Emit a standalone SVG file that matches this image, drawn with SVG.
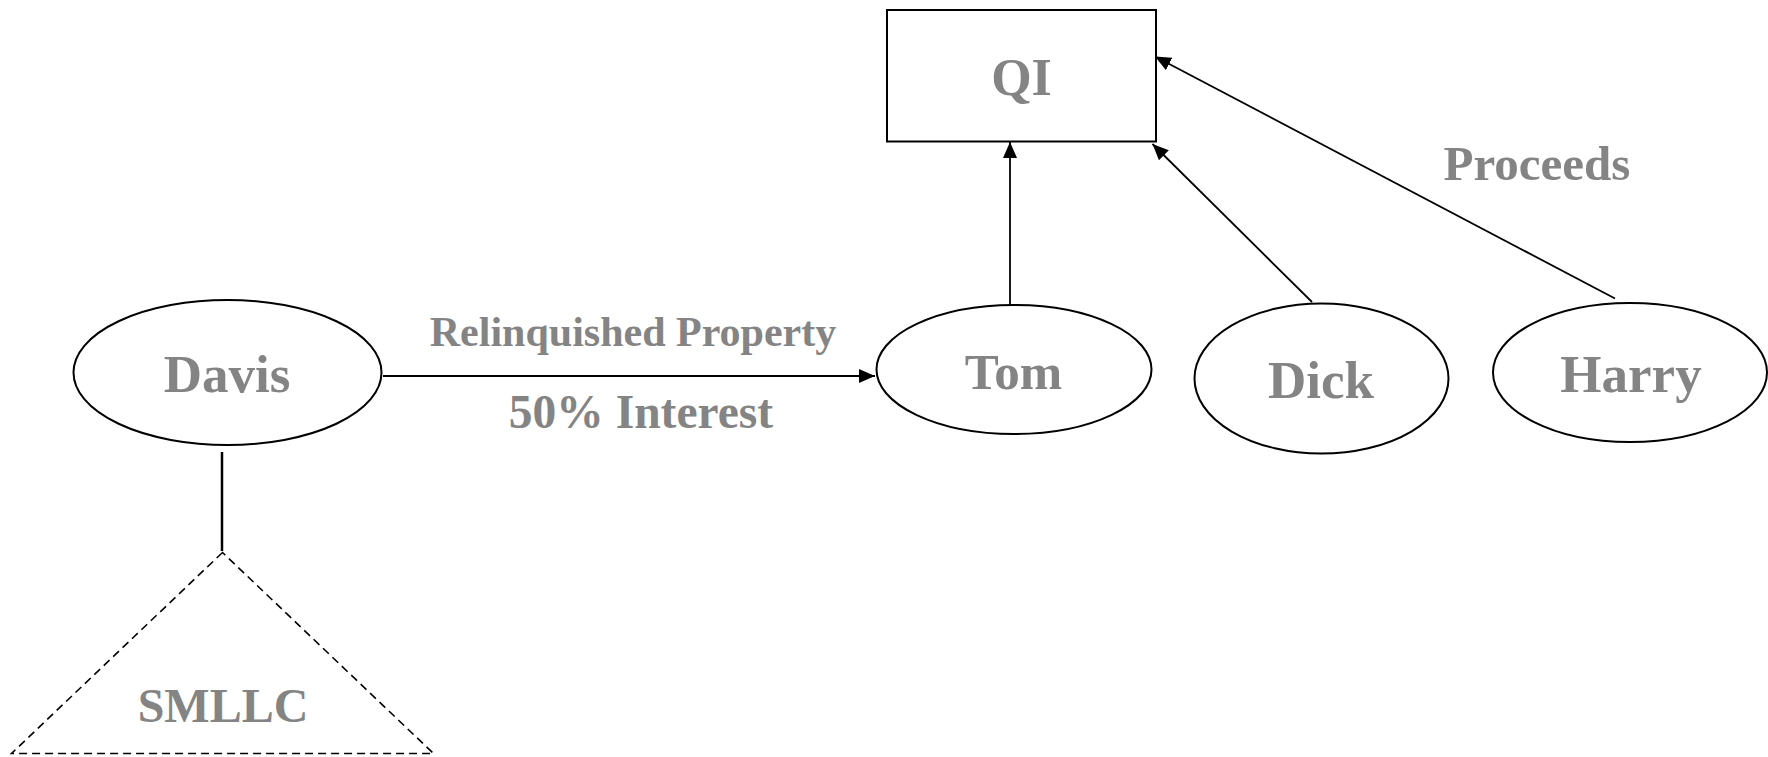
<svg xmlns="http://www.w3.org/2000/svg" width="1768" height="757" viewBox="0 0 1768 757">
<style>
.shape{fill:#fff;stroke:#000;stroke-width:2}
.lbl{font-family:"Liberation Serif","Times New Roman",serif;font-weight:bold;fill:#848484;text-anchor:middle}
.conn{fill:none;stroke:#000;stroke-width:1.8}
</style>
<defs>
<marker id="ah" markerUnits="userSpaceOnUse" markerWidth="17" markerHeight="14" refX="16" refY="7" orient="auto">
<path d="M0,0 L16,7 L0,14 z" fill="#000"/>
</marker>
</defs>
<rect width="1768" height="757" fill="#fff"/>
<g id="connectors">
<line class="conn" x1="383" y1="376" x2="875" y2="376" marker-end="url(#ah)"/>
<line class="conn" x1="1010" y1="305" x2="1010" y2="142" marker-end="url(#ah)"/>
<line class="conn" x1="1312" y1="302" x2="1152.5" y2="144" marker-end="url(#ah)"/>
<line class="conn" x1="1615" y1="298.5" x2="1155" y2="56.5" marker-end="url(#ah)"/>
<line x1="222" y1="452" x2="222" y2="551" stroke="#000" stroke-width="2.5"/>
</g>
<g id="edge-labels">
<text class="lbl" x="633" y="346" font-size="42">Relinquished Property</text>
<text class="lbl" x="641" y="428" font-size="47.5">50% Interest</text>
<text class="lbl" x="1537" y="180" font-size="49">Proceeds</text>
</g>
<g id="QI">
<rect class="shape" x="887" y="10" width="269" height="131.5"/>
<text class="lbl" x="1021.5" y="95" font-size="52">QI</text>
</g>
<g id="Davis">
<ellipse class="shape" cx="227.5" cy="372.5" rx="154" ry="72.5"/>
<text class="lbl" x="227" y="391.5" font-size="53">Davis</text>
</g>
<g id="Tom">
<ellipse class="shape" cx="1014" cy="369.5" rx="137.5" ry="64.5"/>
<text class="lbl" x="1013.5" y="389" font-size="51">Tom</text>
</g>
<g id="Dick">
<ellipse class="shape" cx="1321.5" cy="378.5" rx="127" ry="75"/>
<text class="lbl" x="1321" y="398" font-size="53">Dick</text>
</g>
<g id="Harry">
<ellipse class="shape" cx="1630" cy="372.5" rx="137" ry="69.5"/>
<text class="lbl" x="1631" y="391.5" font-size="53">Harry</text>
</g>
<g id="SMLLC">
<polygon points="222.5,552.5 11.5,753.5 433.5,753.5" fill="none" stroke="#000" stroke-width="1.6" stroke-dasharray="8,5"/>
<text class="lbl" x="223" y="721.5" font-size="48">SMLLC</text>
</g>
</svg>
